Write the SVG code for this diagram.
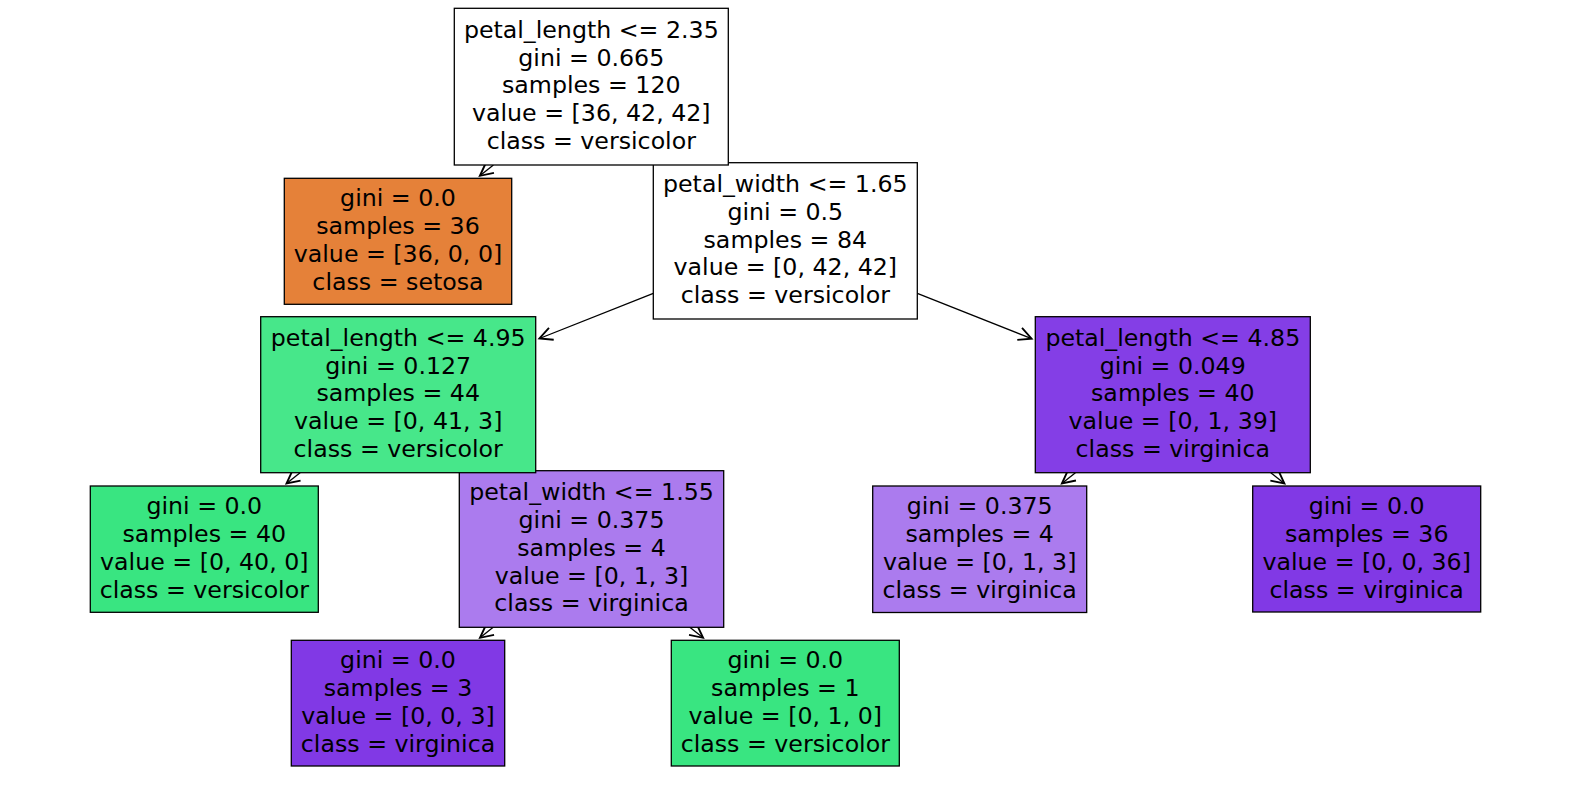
<svg xmlns="http://www.w3.org/2000/svg" width="1570" height="790" viewBox="0 0 1570 790">
<style>
  .box { stroke: #000; stroke-width: 1.3; }
  .t { font-family: "DejaVu Sans", "Liberation Sans", sans-serif; font-size: 23.7px; fill: #000; text-anchor: middle; }
  .edge { stroke: #000; stroke-width: 1.3; fill: none; marker-end: url(#head); }
  .w { fill: #ffffff; }
  .or { fill: #e58139; }
  .gr { fill: #39e581; }
  .gr2 { fill: #47e78a; }
  .pu { fill: #8139e5; }
  .pu2 { fill: #843ee6; }
  .pu3 { fill: #ab7bee; }
</style>
<defs>
  <marker id="head" markerUnits="userSpaceOnUse" markerWidth="20" markerHeight="20" refX="0" refY="0" orient="auto" overflow="visible" viewBox="-12 -6 14 12">
    <path d="M-9,-4.5 L0,0 L-9,4.5" fill="none" stroke="#000" stroke-width="1.3"/>
  </marker>
</defs>
<rect width="1570" height="790" fill="#ffffff"/>
<g id="connectors">
  <line class="edge" x1="493.4" y1="165" x2="479.9" y2="175.8"/>
  <line class="edge" x1="653.3" y1="293.3" x2="539.4" y2="338.5"/>
  <line class="edge" x1="917.3" y1="293.4" x2="1031.6" y2="338.7"/>
  <line class="edge" x1="300.1" y1="472.7" x2="286.5" y2="483.5"/>
  <line class="edge" x1="493.2" y1="627.3" x2="480" y2="637.8"/>
  <line class="edge" x1="689.8" y1="627.3" x2="703.1" y2="637.8"/>
  <line class="edge" x1="1075.4" y1="472.7" x2="1061.9" y2="483.5"/>
  <line class="edge" x1="1270.8" y1="472.7" x2="1284.4" y2="483.5"/>
</g>
<g id="leaf3">
  <rect class="box pu" x="291.3" y="640.3" width="213.4" height="125.7"/>
  <text class="t"><tspan x="398" y="668.2">gini = 0.0</tspan><tspan x="398" y="696">samples = 3</tspan><tspan x="398" y="723.8">value = [0, 0, 3]</tspan><tspan x="398" y="751.6">class = virginica</tspan></text>
</g>
<g id="leaf1">
  <rect class="box gr" x="671.3" y="640.3" width="228" height="125.7"/>
  <text class="t"><tspan x="785.3" y="668.2">gini = 0.0</tspan><tspan x="785.3" y="696">samples = 1</tspan><tspan x="785.3" y="723.8">value = [0, 1, 0]</tspan><tspan x="785.3" y="751.6">class = versicolor</tspan></text>
</g>
<g id="leaf40">
  <rect class="box gr" x="90.3" y="486" width="228" height="126.3"/>
  <text class="t"><tspan x="204.3" y="514.2">gini = 0.0</tspan><tspan x="204.3" y="542">samples = 40</tspan><tspan x="204.3" y="569.8">value = [0, 40, 0]</tspan><tspan x="204.3" y="597.6">class = versicolor</tspan></text>
</g>
<g id="pw155">
  <rect class="box pu3" x="459.3" y="470.7" width="264.4" height="156.6"/>
  <text class="t"><tspan x="591.5" y="500.1">petal_width &lt;= 1.55</tspan><tspan x="591.5" y="527.9">gini = 0.375</tspan><tspan x="591.5" y="555.7">samples = 4</tspan><tspan x="591.5" y="583.5">value = [0, 1, 3]</tspan><tspan x="591.5" y="611.3">class = virginica</tspan></text>
</g>
<g id="leaf0375">
  <rect class="box pu3" x="872.7" y="486" width="214" height="126.5"/>
  <text class="t"><tspan x="979.7" y="514.2">gini = 0.375</tspan><tspan x="979.7" y="542">samples = 4</tspan><tspan x="979.7" y="569.8">value = [0, 1, 3]</tspan><tspan x="979.7" y="597.6">class = virginica</tspan></text>
</g>
<g id="leaf36">
  <rect class="box pu" x="1252.7" y="486" width="228" height="126"/>
  <text class="t"><tspan x="1366.7" y="514.2">gini = 0.0</tspan><tspan x="1366.7" y="542">samples = 36</tspan><tspan x="1366.7" y="569.8">value = [0, 0, 36]</tspan><tspan x="1366.7" y="597.6">class = virginica</tspan></text>
</g>
<g id="pl495">
  <rect class="box gr2" x="260.7" y="316.7" width="275" height="156"/>
  <text class="t"><tspan x="398.2" y="345.8">petal_length &lt;= 4.95</tspan><tspan x="398.2" y="373.6">gini = 0.127</tspan><tspan x="398.2" y="401.4">samples = 44</tspan><tspan x="398.2" y="429.2">value = [0, 41, 3]</tspan><tspan x="398.2" y="457">class = versicolor</tspan></text>
</g>
<g id="pl485">
  <rect class="box pu2" x="1035.3" y="316.7" width="275" height="156"/>
  <text class="t"><tspan x="1172.8" y="345.8">petal_length &lt;= 4.85</tspan><tspan x="1172.8" y="373.6">gini = 0.049</tspan><tspan x="1172.8" y="401.4">samples = 40</tspan><tspan x="1172.8" y="429.2">value = [0, 1, 39]</tspan><tspan x="1172.8" y="457">class = virginica</tspan></text>
</g>
<g id="setosa">
  <rect class="box or" x="284.3" y="178.3" width="227.4" height="126"/>
  <text class="t"><tspan x="398" y="206.3">gini = 0.0</tspan><tspan x="398" y="234.1">samples = 36</tspan><tspan x="398" y="261.9">value = [36, 0, 0]</tspan><tspan x="398" y="289.7">class = setosa</tspan></text>
</g>
<g id="pw165">
  <rect class="box w" x="653.3" y="162.7" width="264" height="156.3"/>
  <text class="t"><tspan x="785.3" y="192">petal_width &lt;= 1.65</tspan><tspan x="785.3" y="219.8">gini = 0.5</tspan><tspan x="785.3" y="247.6">samples = 84</tspan><tspan x="785.3" y="275.4">value = [0, 42, 42]</tspan><tspan x="785.3" y="303.2">class = versicolor</tspan></text>
</g>
<g id="root">
  <rect class="box w" x="454.3" y="8.3" width="274" height="156.7"/>
  <text class="t"><tspan x="591.3" y="37.8">petal_length &lt;= 2.35</tspan><tspan x="591.3" y="65.6">gini = 0.665</tspan><tspan x="591.3" y="93.4">samples = 120</tspan><tspan x="591.3" y="121.2">value = [36, 42, 42]</tspan><tspan x="591.3" y="149">class = versicolor</tspan></text>
</g>
</svg>
